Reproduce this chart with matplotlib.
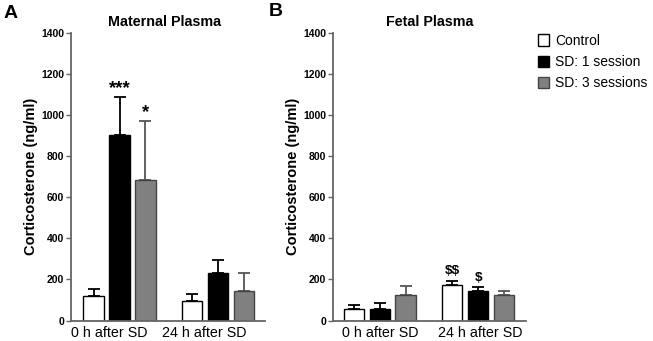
import numpy as np
import matplotlib
matplotlib.use('Agg')
import matplotlib.pyplot as plt
from matplotlib.patches import Patch

plt.rcParams['font.family'] = ['Liberation Sans', 'DejaVu Sans']
plt.rcParams['text.parse_math'] = False

# Data (ng/ml; errors are upper SEM only)
groups = ['0 h after SD', '24 h after SD']
series = ['Control', 'SD: 1 session', 'SD: 3 sessions']

maternal_control = [118, 94]
maternal_sd1 = [906, 230]
maternal_sd3 = [686, 142]
maternal_control_err = [38, 34]
maternal_sd1_err = [183, 63]
maternal_sd3_err = [286, 88]

fetal_control = [56, 173]
fetal_sd1 = [54, 146]
fetal_sd3 = [125, 123]
fetal_control_err = [18, 22]
fetal_sd1_err = [33, 17]
fetal_sd3_err = [41, 20]

# significance marks: (series index, group index, text)
maternal_marks = [(1, 0, '***'), (2, 0, '*')]
fetal_marks = [(0, 1, '$$'), (1, 1, '$')]

colors = ['#ffffff', '#000000', '#808080']
edges = ['#000000', '#000000', '#444444']
err_colors = ['#000000', '#000000', '#555555']
axis_grey = '#666666'

fig = plt.figure(figsize=(6.53, 3.41), dpi=100)


def draw_panel(ax, vals, errs, marks, title, xlim, label_pos, title_x):
    gap = 3.8
    for i, (v, e) in enumerate(zip(vals, errs)):
        x = np.arange(len(groups)) * gap + i
        ax.bar(x, v, width=0.79, color=colors[i], edgecolor=edges[i],
               linewidth=1.0, zorder=2)
        ax.errorbar(x, v, yerr=[np.zeros(len(v)), e], fmt='none',
                    ecolor=err_colors[i], elinewidth=1.3, capsize=4.3,
                    capthick=1.3, zorder=1)
    for i, g, txt in marks:
        top = vals[i][g] + errs[i][g]
        star = '*' in txt
        ax.annotate(txt, (g * gap + i, top),
                    xytext=(0, 3 if star else 4.5),
                    textcoords='offset points', ha='center', va='baseline',
                    fontsize=13.5 if star else 9.7, fontweight='bold')
    ax.set_xlim(*xlim)
    ax.set_ylim(0, 1400)
    ax.set_yticks(range(0, 1401, 200))
    ax.set_xticks(label_pos)
    ax.set_xticklabels(groups, fontsize=10.3)
    ax.tick_params(axis='x', length=0, pad=4)
    ax.tick_params(axis='y', length=3.5, width=1.0, color=axis_grey,
                   labelsize=7.5, pad=1.5)
    for t in ax.get_yticklabels():
        t.set_fontweight('bold')
    for s in ['top', 'right']:
        ax.spines[s].set_visible(False)
    for s in ['left', 'bottom']:
        ax.spines[s].set_color(axis_grey)
        ax.spines[s].set_linewidth(1.3)
    ax.set_ylabel('Corticosterone (ng/ml)', fontsize=10.5, fontweight='bold',
                  labelpad=2)
    ax.set_title(title, fontsize=10.3, fontweight='bold', pad=5, x=title_x)


ax1 = fig.add_axes([0.1087, 0.060, 0.297, 0.843])
draw_panel(ax1, [maternal_control, maternal_sd1, maternal_sd3],
           [maternal_control_err, maternal_sd1_err, maternal_sd3_err],
           maternal_marks, 'Maternal Plasma', (-0.87, 6.6), [0.6, 4.25],
           0.48)

ax2 = fig.add_axes([0.510, 0.060, 0.2955, 0.843])
draw_panel(ax2, [fetal_control, fetal_sd1, fetal_sd3],
           [fetal_control_err, fetal_sd1_err, fetal_sd3_err],
           fetal_marks, 'Fetal Plasma', (-0.81, 6.65), [1.0, 4.9], 0.5)

fig.text(11 / 653, 1 - 14 / 341, 'A', fontsize=14, fontweight='bold',
         ha='center', va='center')
fig.text(276 / 653, 1 - 12 / 341, 'B', fontsize=14, fontweight='bold',
         ha='center', va='center')

handles = [Patch(facecolor=colors[i], edgecolor=edges[i], linewidth=1.0)
           for i in range(3)]
fig.legend(handles, series, loc='upper left',
           bbox_to_anchor=(538 / 653, 1 - 34 / 341), frameon=False,
           fontsize=10, handlelength=0.8, handleheight=0.9,
           handletextpad=0.45, labelspacing=0.52, borderpad=0,
           borderaxespad=0)

fig.savefig('out.png', dpi=100)
